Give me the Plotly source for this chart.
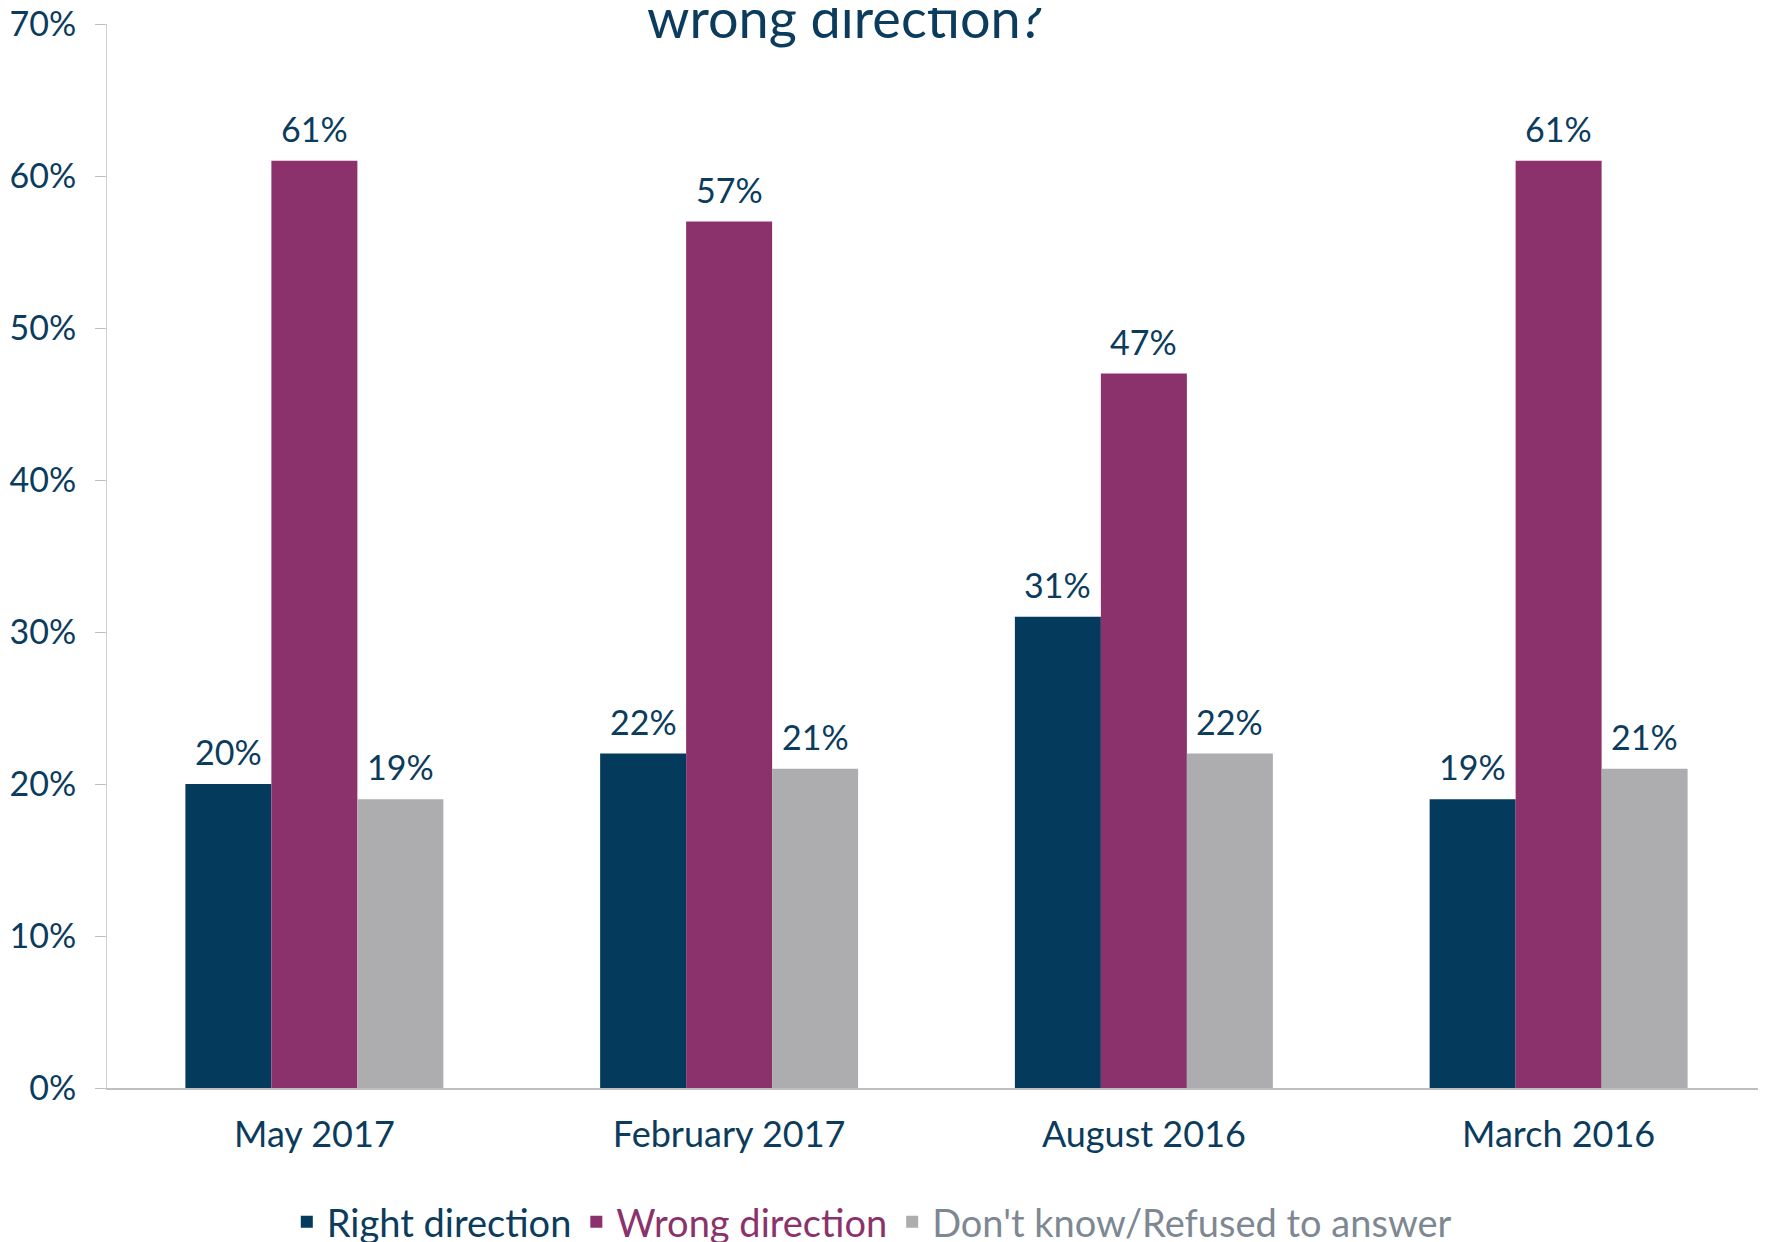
import plotly.graph_objects as go

categories = ["May 2017", "February 2017", "August 2016", "March 2016"]
right_direction = [0.20, 0.22, 0.31, 0.19]
wrong_direction = [0.61, 0.57, 0.47, 0.61]
dont_know = [0.19, 0.21, 0.22, 0.21]
series_names = ["Right direction", "Wrong direction", "Don't know/Refused to answer"]
title_text = "wrong direction?"

FONT = "Lato"
NAVY = "#043A5B"
PURPLE = "#8B326C"
GRAY = "#ADADAF"
TXT = "#0B3C5D"
LEGEND_GRAY = "#7D8892"

W, H = 1766, 1242
ML, MR, MT, MB = 99, 8, 16, 162
BARGAP = 0.378
series = [
    (series_names[0], right_direction, NAVY, TXT),
    (series_names[1], wrong_direction, PURPLE, PURPLE),
    (series_names[2], dont_know, GRAY, LEGEND_GRAY),
]
bar_px = (W - ML - MR) / len(categories) * (1 - BARGAP) / len(series)

fig = go.Figure()
for i, (name, vals, col, tcol) in enumerate(series):
    fig.add_trace(go.Bar(
        x=categories, y=vals,
        name=f"<span style='color:{tcol}'>{name}</span>",
        marker=dict(color=col, line=dict(width=0)),
        textposition="none",
    ))
    for c, v in zip(categories, vals):
        fig.add_annotation(
            x=c, y=v, xref="x", yref="y", text=f"{round(v*100)}%",
            showarrow=False, xanchor="center", yanchor="bottom",
            xshift=(i - (len(series) - 1) / 2) * bar_px, yshift=10,
            font=dict(family=FONT, size=34, color=TXT),
        )

fig.add_annotation(
    text=title_text, xref="paper", yref="paper", x=0.445, y=0.974,
    xanchor="center", yanchor="bottom", showarrow=False,
    font=dict(family=FONT, size=54, color=TXT),
)

fig.update_layout(
    width=W, height=H,
    margin=dict(l=ML, r=MR, t=MT, b=MB, autoexpand=False),
    paper_bgcolor="white", plot_bgcolor="white",
    barmode="group", bargap=BARGAP, bargroupgap=0,
    font=dict(family=FONT, color=TXT, size=34),
    showlegend=True,
    legend=dict(orientation="h", x=0.461, xanchor="center",
                yref="container", y=0.0225, yanchor="middle",
                font=dict(family=FONT, size=38), itemwidth=30, tracegroupgap=0),
)
fig.update_xaxes(
    automargin=False,
    showline=True, linecolor="#BFBFBF", linewidth=2, ticks="", showgrid=False,
    tickfont=dict(family=FONT, size=36, color=TXT), ticklabelstandoff=14,
)
fig.update_yaxes(
    automargin=False, ticklabeloverflow="allow",
    range=[0, 0.7], dtick=0.1, tickformat=".0%", showgrid=False, zeroline=False,
    showline=True, linecolor="#D0D0D0", linewidth=1, ticks="outside", ticklen=11,
    tickcolor="#BFBFBF", tickfont=dict(family=FONT, size=34, color=TXT),
    ticklabelstandoff=12,
)

fig.write_html("out.html")
